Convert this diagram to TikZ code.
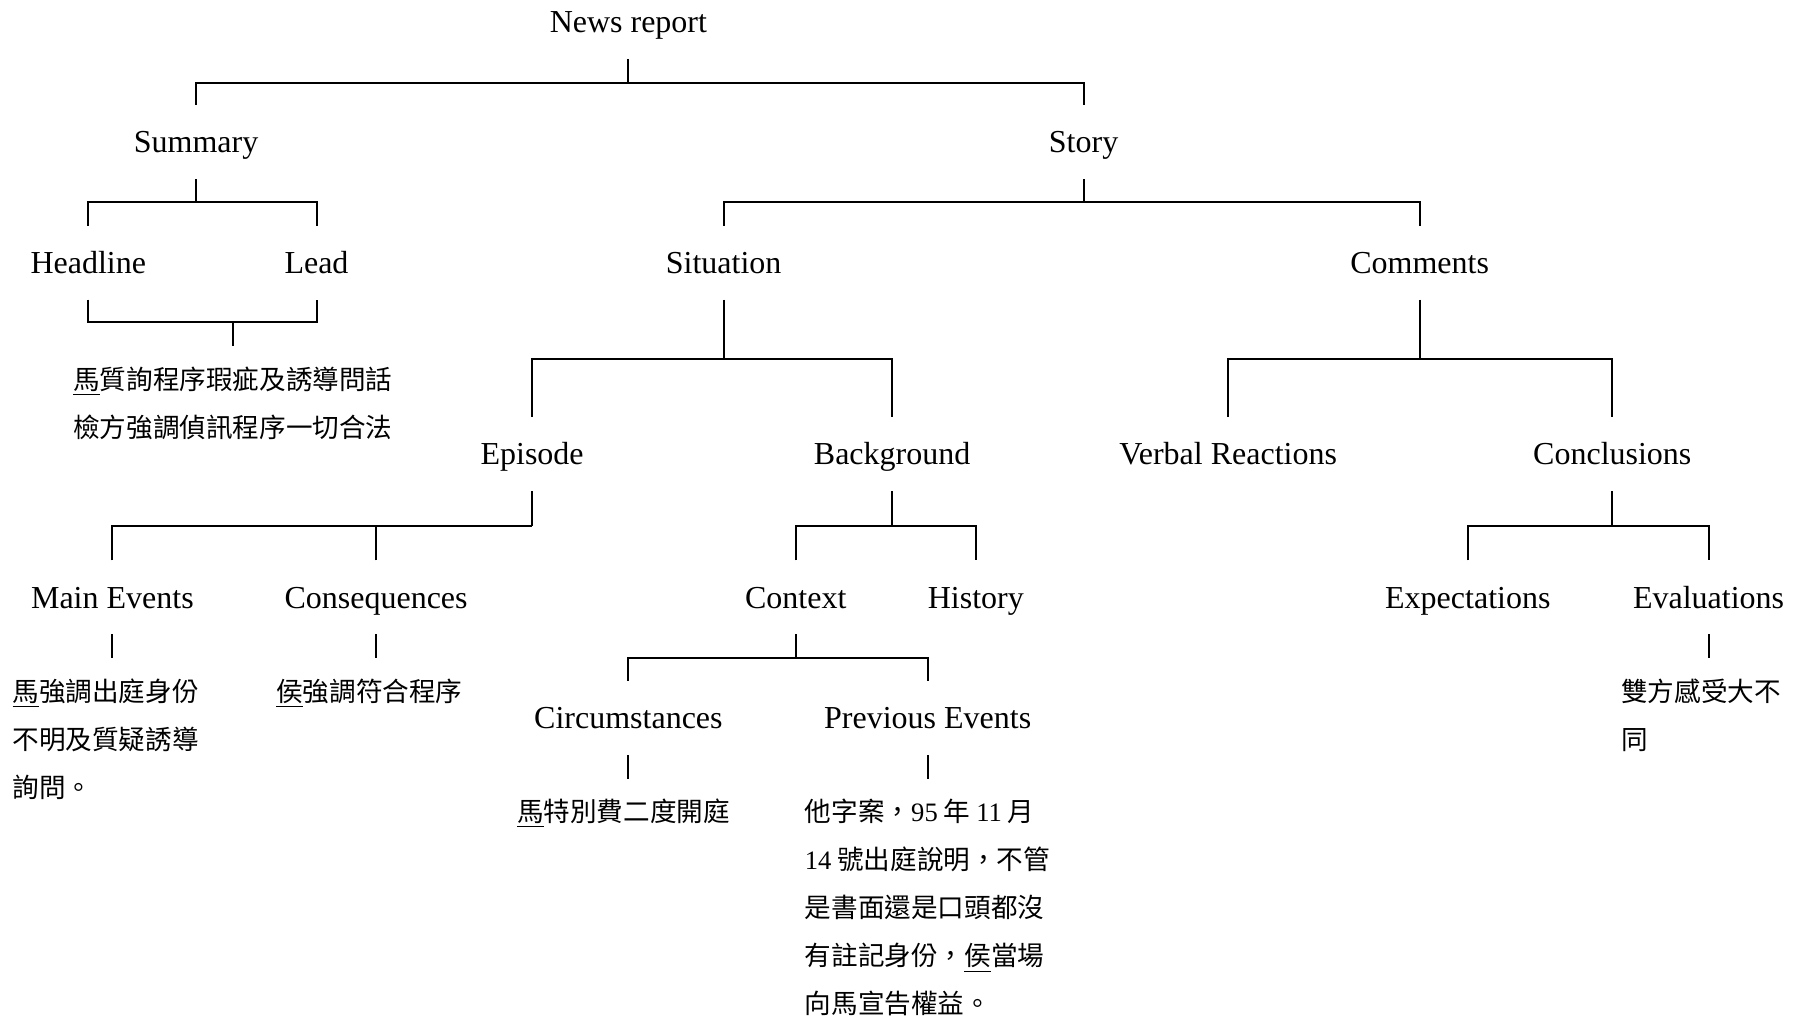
\documentclass[tikz,border=0pt]{standalone}
\usepackage{fontspec}
\setmainfont{Liberation Serif}
\newfontfamily\cjk{Noto Sans CJK TC}
\begin{document}
\begin{tikzpicture}[x=0.5pt,y=-0.5pt,line width=1pt,
  lbl/.style={font=\fontsize{16pt}{19pt}\selectfont,text height=10.6pt,text depth=0pt,
    minimum height=36pt,inner xsep=0pt,anchor=center},
  leaf/.style={font=\fontsize{13.3pt}{24pt}\selectfont\cjk,align=left,anchor=base west,inner sep=0pt}]
\useasboundingbox (0,0) rectangle (1798,1024);
\fill[white] (0,0) rectangle (1798,1024);
% bar levels
\coordinate (ya) at (0,82.6);
\coordinate (yb) at (0,201.8);
\coordinate (yc) at (0,322.2);
\coordinate (yd) at (0,358.9);
\coordinate (ye) at (0,526.3);
\coordinate (yf) at (0,658.2);
\coordinate (yg) at (0,778.6);
\coordinate (sumend) at (232.8,346.3);
% labels
\node[lbl] (news) at (628.4,21.8) {News report};
\node[lbl] (summary) at (196.1,142.2) {Summary};
\node[lbl] (story) at (1083.6,142.2) {Story};
\node[lbl] (headline) at (88.3,262.6) {Headline};
\node[lbl] (lead) at (316.5,262.6) {Lead};
\node[lbl] (situation) at (723.6,262.6) {Situation};
\node[lbl] (comments) at (1419.6,262.6) {Comments};
\node[lbl] (episode) at (532.1,454.1) {Episode};
\node[lbl] (background) at (892.1,454.1) {Background};
\node[lbl] (verbal) at (1228.1,454.1) {Verbal Reactions};
\node[lbl] (conclusions) at (1612.3,454.1) {Conclusions};
\node[lbl] (mainev) at (112.4,597.4) {Main Events};
\node[lbl] (conseq) at (376.1,597.4) {Consequences};
\node[lbl] (context) at (795.8,597.4) {Context};
\node[lbl] (history) at (975.8,597.4) {History};
\node[lbl] (expect) at (1467.8,597.4) {Expectations};
\node[lbl] (evals) at (1708.6,597.4) {Evaluations};
\node[lbl] (circ) at (628.4,717.8) {Circumstances};
\node[lbl] (prev) at (927.7,717.8) {Previous Events};
% leaf texts (base anchor = baseline of last line)
\node[leaf] (sumtext) at (72.2,437.6) {\underline{馬}質詢程序瑕疵及誘導問話\\檢方強調偵訊程序一切合法};
\node[leaf] (maintext) at (11.5,797.5) {\underline{馬}強調出庭身份\\不明及質疑誘導\\詢問。};
\node[leaf] (conseqtext) at (275.2,701.5) {\underline{侯}強調符合程序};
\node[leaf] (circtext) at (516,821.9) {\underline{馬}特別費二度開庭};
\node[leaf] (prevtext) at (803.8,1013.9) {他字案，{\rmfamily 95} 年 {\rmfamily 11} 月\\{\rmfamily 14} 號出庭說明，不管\\是書面還是口頭都沒\\有註記身份，\underline{侯}當場\\向馬宣告權益。};
\node[leaf] (evaltext) at (1620.3,749.5) {雙方感受大不\\同};
% connectors
\draw (news.south) -- (news.south |- ya);
\draw (summary.north) -- (summary.north |- ya) -- (story.north |- ya) -- (story.north);
\draw (summary.south) -- (summary.south |- yb);
\draw (headline.north) -- (headline.north |- yb) -- (lead.north |- yb) -- (lead.north);
\draw (story.south) -- (story.south |- yb);
\draw (situation.north) -- (situation.north |- yb) -- (comments.north |- yb) -- (comments.north);
\draw (headline.south) -- (headline.south |- yc) -- (lead.south |- yc) -- (lead.south);
\draw (sumend |- yc) -- (sumend);
\draw (situation.south) -- (situation.south |- yd);
\draw (episode.north) -- (episode.north |- yd) -- (background.north |- yd) -- (background.north);
\draw (comments.south) -- (comments.south |- yd);
\draw (verbal.north) -- (verbal.north |- yd) -- (conclusions.north |- yd) -- (conclusions.north);
\draw (episode.south) -- (episode.south |- ye);
\draw (mainev.north) -- (mainev.north |- ye) -- (episode.south |- ye);
\draw (conseq.north) -- (conseq.north |- ye);
\draw (background.south) -- (background.south |- ye);
\draw (context.north) -- (context.north |- ye) -- (history.north |- ye) -- (history.north);
\draw (conclusions.south) -- (conclusions.south |- ye);
\draw (expect.north) -- (expect.north |- ye) -- (evals.north |- ye) -- (evals.north);
\draw (mainev.south) -- (mainev.south |- yf);
\draw (conseq.south) -- (conseq.south |- yf);
\draw (evals.south) -- (evals.south |- yf);
\draw (context.south) -- (context.south |- yf);
\draw (circ.north) -- (circ.north |- yf) -- (prev.north |- yf) -- (prev.north);
\draw (circ.south) -- (circ.south |- yg);
\draw (prev.south) -- (prev.south |- yg);
\end{tikzpicture}
\end{document}
